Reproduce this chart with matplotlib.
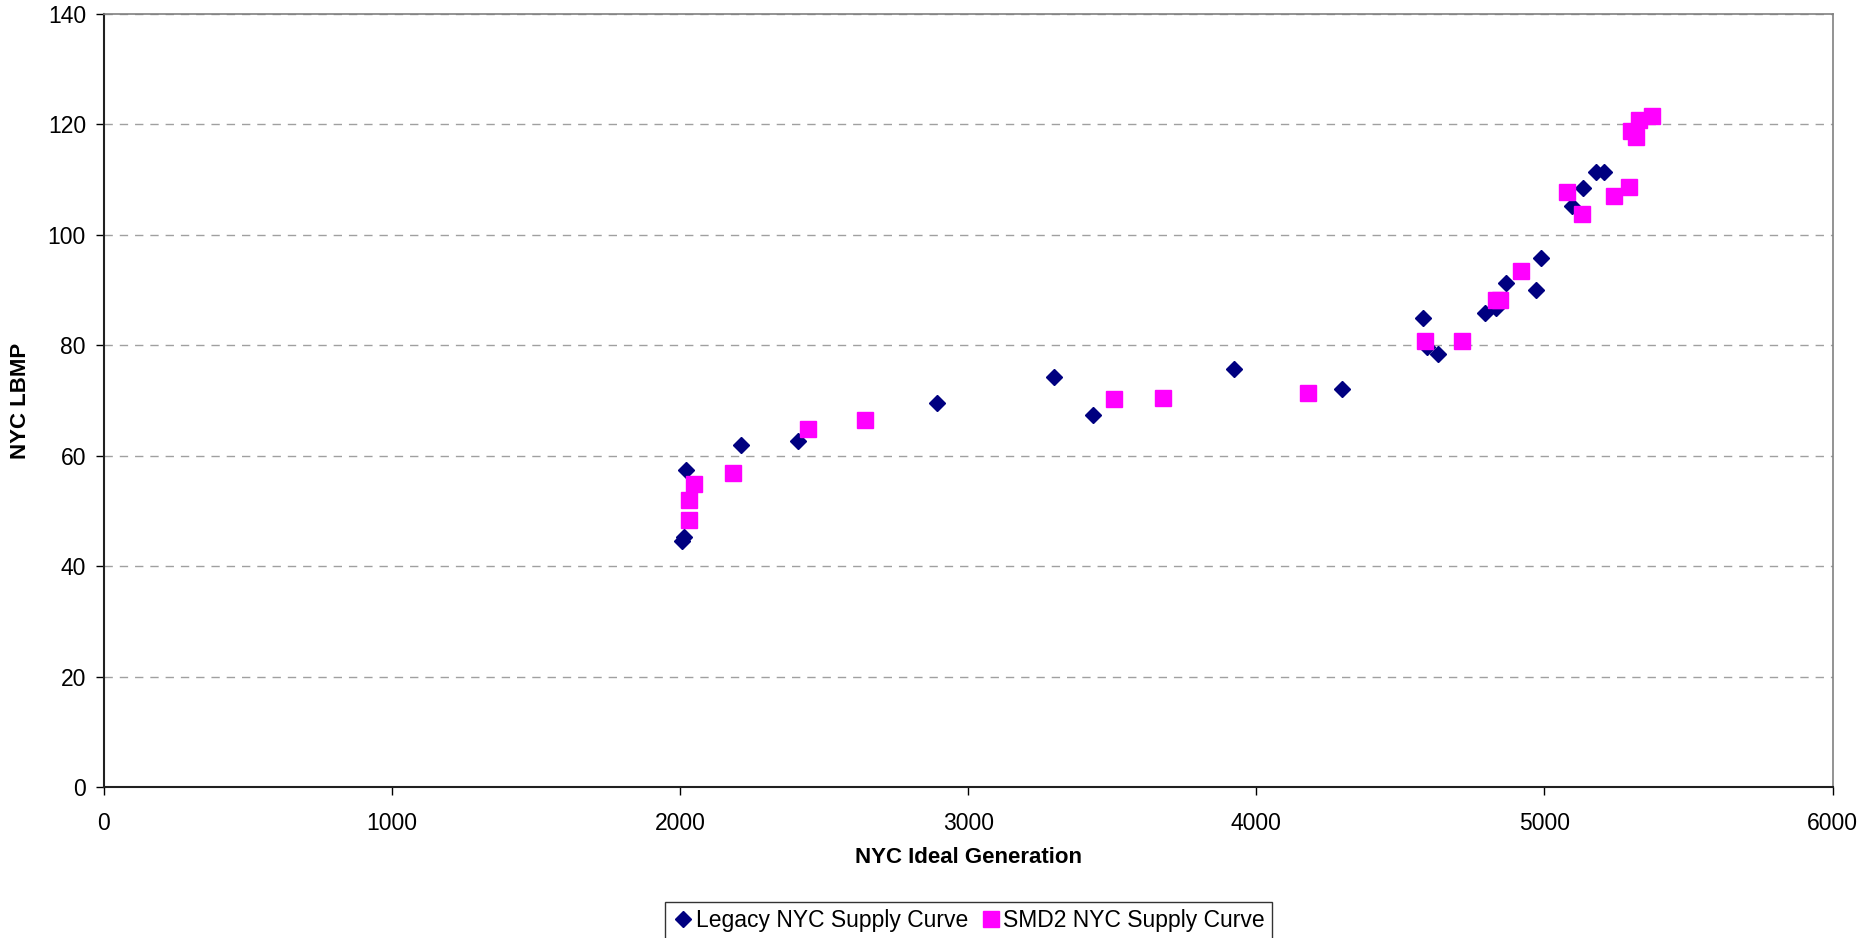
import numpy as np
import matplotlib.pyplot as plt

plt.rcParams['font.family'] = ['Liberation Sans', 'DejaVu Sans']

# Legacy NYC supply curve (diamonds)
legacy_x = [2008, 2012, 2020, 2210, 2409, 2892, 3296, 3434, 3924, 4297,
            4579, 4591, 4631, 4795, 4832, 4868, 4972, 4988, 5095, 5132,
            5180, 5205]
legacy_y = [44.5, 45.3, 57.4, 62.0, 62.7, 69.5, 74.3, 67.4, 75.7, 72.0,
            84.9, 79.7, 78.5, 85.9, 86.8, 91.3, 90.0, 95.8, 105.3, 108.5,
            111.4, 111.4]

# SMD2 NYC supply curve (squares)
smd2_x = [2029, 2031, 2048, 2185, 2445, 2643, 3505, 3676, 4178, 4585,
          4713, 4832, 4845, 4920, 5078, 5129, 5240, 5292, 5301, 5316,
          5327, 5373]
smd2_y = [48.3, 51.9, 54.9, 56.9, 64.9, 66.5, 70.3, 70.5, 71.4, 80.8,
          80.7, 88.2, 88.2, 93.5, 107.7, 103.8, 107.0, 108.6, 118.9, 117.8,
          120.9, 121.5]

fig = plt.figure(figsize=(18.7, 9.38), dpi=100)
ax = fig.add_axes([0.0556, 0.161, 0.9244, 0.824])

ax.plot(legacy_x, legacy_y, linestyle='none', marker='D', markersize=8.3,
        color='#000080', label='Legacy NYC Supply Curve', zorder=3)
ax.plot(smd2_x, smd2_y, linestyle='none', marker='s', markersize=11.5,
        color='#FF00FF', label='SMD2 NYC Supply Curve', zorder=3)

ax.set_xlim(0, 6000)
ax.set_ylim(0, 140)
ax.set_xticks(np.arange(0, 6001, 1000))
ax.set_yticks(np.arange(0, 141, 20))
ax.yaxis.grid(True, linestyle=(0, (6, 5)), color='#a0a0a0', linewidth=1)
ax.set_axisbelow(True)

ax.tick_params(axis='both', labelsize=16.5, direction='out', length=6, width=1)
ax.tick_params(axis='x', pad=12)
ax.tick_params(axis='y', pad=7)
for s in ['left', 'bottom']:
    ax.spines[s].set_color('#202020')
    ax.spines[s].set_linewidth(1.5)
for s in ['top', 'right']:
    ax.spines[s].set_color('#808080')
    ax.spines[s].set_linewidth(1.2)

ax.set_xlabel('NYC Ideal Generation', fontsize=16, fontweight='bold')
ax.set_ylabel('NYC LBMP', fontsize=16, fontweight='bold')
ax.xaxis.set_label_coords(0.5, -0.078)
ax.yaxis.set_label_coords(-0.042, 0.5)

leg = ax.legend(loc='upper center', bbox_to_anchor=(0.5, -0.134), ncol=2,
                fontsize=16.5, frameon=True, fancybox=False, edgecolor='black',
                handletextpad=0.05, columnspacing=0.5, borderpad=0.3,
                handlelength=1.0)
leg.get_frame().set_linewidth(1.0)

fig.savefig('out.png', dpi=100)
